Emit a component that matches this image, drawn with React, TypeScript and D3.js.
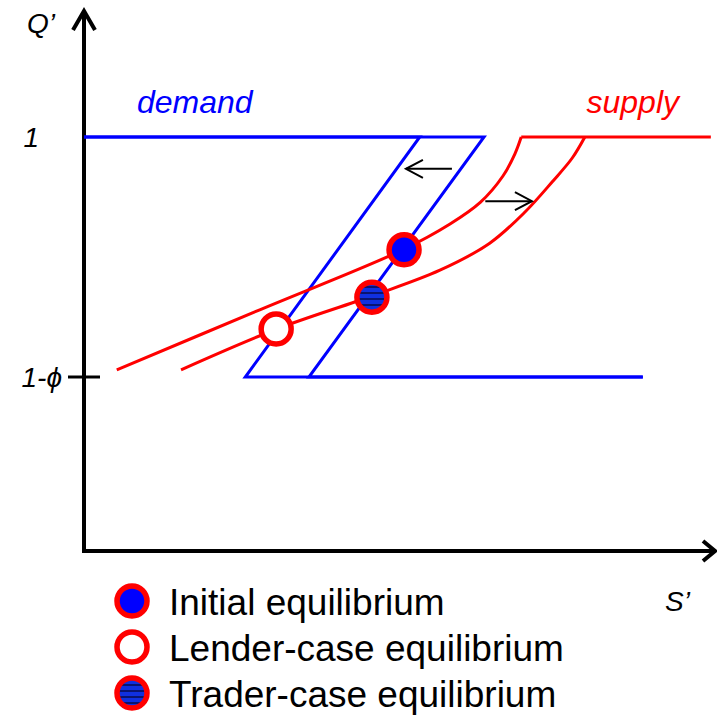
import React from 'react';
import * as d3 from 'd3';

// chart values, in (S', Q') units
const PHI = 0.4;
const yTicks = [
  { value: 1, label: '1' },
  { value: 1 - PHI, label: '1-\u03D5' },
];

// demand: original (right) and shifted (left), top plateau -> diagonal -> floor
const demandShifted = [[0, 1], [0.533, 1], [0.256, 0.6], [0.887, 0.6]];
const demandInitial = [[0, 1], [0.635, 1], [0.357, 0.6], [0.887, 0.6]];

// supply: original (left) and shifted (right), curved part + cap at Q'=1
const supplyInitial = [
  [0.052, 0.612], [0.279, 0.712], [0.506, 0.812], [0.581, 0.855],
  [0.629, 0.891], [0.665, 0.935], [0.684, 0.972], [0.694, 1],
];
const supplyShifted = [
  [0.154, 0.612], [0.306, 0.68], [0.457, 0.735], [0.565, 0.778],
  [0.644, 0.823], [0.7, 0.875], [0.743, 0.925], [0.775, 0.965], [0.795, 1],
];
const supplyCap = [[0.694, 1], [0.995, 1]];

const equilibria = [
  { name: 'Initial equilibrium', s: 0.508, q: 0.812, fill: 'blue' },
  { name: 'Lender-case equilibrium', s: 0.305, q: 0.68, fill: 'white' },
  { name: 'Trader-case equilibrium', s: 0.457, q: 0.733, fill: 'url(#stripes)' },
];

const shiftArrows = [
  { from: [0.584, 0.947], to: [0.511, 0.947] },
  { from: [0.637, 0.893], to: [0.711, 0.893] },
];

const W = 717;
const H = 715;
const axisX = 84;
const axisY = 551;
const font = "Arial, 'Liberation Sans', sans-serif";

export default function App() {
  const x = d3.scaleLinear().domain([0, 1]).range([axisX, 714]);
  const y = d3.scaleLinear().domain([1 - PHI, 1]).range([377, 137]);

  const poly = d3.line<number[]>().x(d => x(d[0])).y(d => y(d[1]));
  const smooth = d3
    .line<number[]>()
    .x(d => x(d[0]))
    .y(d => y(d[1]))
    .curve(d3.curveCatmullRom.alpha(0.5));

  const arrowHead = (tx: number, ty: number, dir: number, len: number, half: number) =>
    `M${tx - dir * len},${ty - half}L${tx},${ty}L${tx - dir * len},${ty + half}`;

  return (
    <svg
      width={W}
      height={H}
      style={{ position: 'absolute', left: 0, top: 0, display: 'block', background: 'white' }}
    >
      <defs>
        <pattern id="stripes" patternUnits="userSpaceOnUse" width={10} height={6}>
          <rect width={10} height={6} fill="#1030e0" />
          <rect y={4} width={10} height={2} fill="#0a1470" />
        </pattern>
      </defs>

      {/* axes */}
      <g stroke="black" strokeWidth={4} fill="none" strokeLinecap="butt">
        <line x1={axisX} y1={axisY + 2} x2={axisX} y2={13} />
        <path d={`M${axisX - 11},30L${axisX},11L${axisX + 11},30`} strokeLinejoin="miter" />
        <line x1={axisX - 2} y1={axisY} x2={714} y2={axisY} />
        <path d={`M703,${axisY - 10}L715,${axisY}L703,${axisY + 10}`} />
      </g>
      <text x={27} y={33} fontFamily={font} fontStyle="italic" fontSize={28}>Q’</text>
      <text x={665} y={611} fontFamily={font} fontStyle="italic" fontSize={28}>S’</text>

      {yTicks.map(t => (
        <g key={t.label}>
          {t.value < 1 && (
            <line x1={axisX - 16} x2={axisX + 16} y1={y(t.value)} y2={y(t.value)} stroke="black" strokeWidth={3} />
          )}
          <text
            x={t.value < 1 ? 62 : 39}
            y={y(t.value) + 10}
            textAnchor="end"
            fontFamily={font}
            fontStyle="italic"
            fontSize={28}
          >
            {t.label}
          </text>
        </g>
      ))}

      {/* demand */}
      <g fill="none" stroke="blue" strokeWidth={3}>
        <path d={poly(demandShifted) || ''} />
        <path d={poly(demandInitial) || ''} />
      </g>
      <text x={137} y={113} fill="blue" fontFamily={font} fontStyle="italic" fontSize={32}>demand</text>

      {/* supply */}
      <g fill="none" stroke="red" strokeWidth={3}>
        <path d={smooth(supplyInitial) || ''} />
        <path d={smooth(supplyShifted) || ''} />
        <path d={poly(supplyCap) || ''} />
      </g>
      <text x={679} y={113} textAnchor="end" fill="red" fontFamily={font} fontStyle="italic" fontSize={32}>supply</text>

      {/* shift arrows */}
      <g fill="none" stroke="black" strokeWidth={2}>
        {shiftArrows.map((a, i) => {
          const x1 = x(a.from[0]);
          const x2 = x(a.to[0]);
          const yy = y(a.from[1]);
          const dir = x2 > x1 ? 1 : -1;
          return (
            <g key={i}>
              <line x1={x1} y1={yy} x2={x2} y2={yy} />
              <path d={arrowHead(x2, yy, dir, 17, 9)} />
            </g>
          );
        })}
      </g>

      {/* equilibria */}
      {equilibria.map(e => (
        <circle key={e.name} cx={x(e.s)} cy={y(e.q)} r={15} fill={e.fill} stroke="red" strokeWidth={5.5} />
      ))}

      {/* legend */}
      {equilibria.map((e, i) => (
        <g key={`lg-${e.name}`} transform={`translate(0, ${i * 46})`}>
          <circle cx={132} cy={601} r={15} fill={e.fill} stroke="red" strokeWidth={5.5} />
          <text x={169} y={615} fontFamily={font} fontSize={37}>{e.name}</text>
        </g>
      ))}
    </svg>
  );
}
